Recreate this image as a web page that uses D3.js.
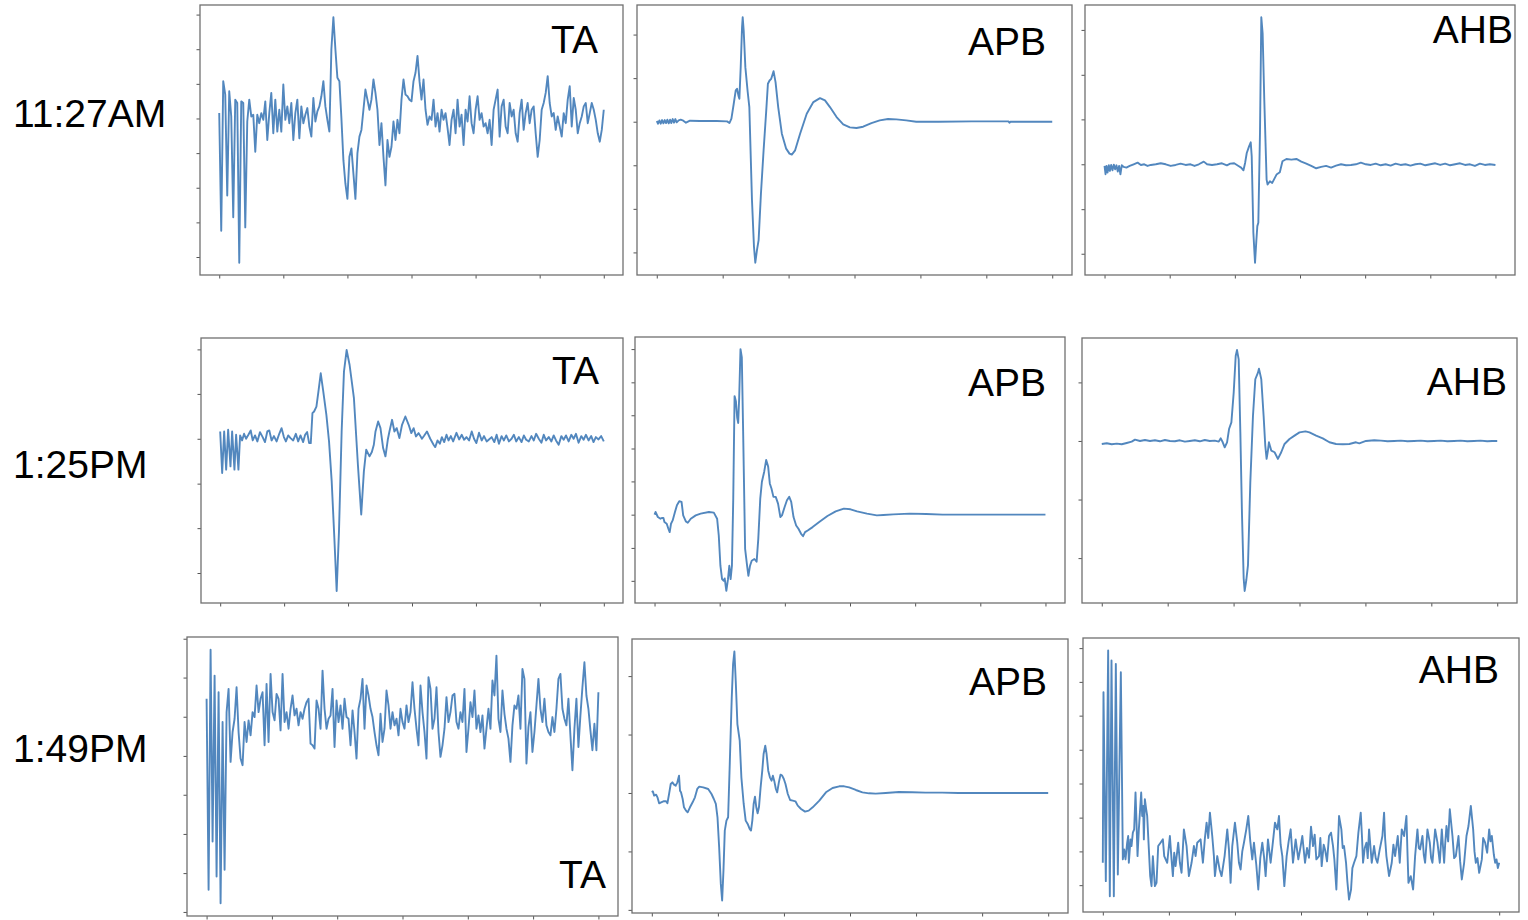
<!DOCTYPE html>
<html>
<head>
<meta charset="utf-8">
<script src="https://cdn.jsdelivr.net/npm/d3@7"></script>
<style>
  body { margin: 0; background: #fff; }
  svg { display: block; }
</style>
</head>
<body>
<svg id="chart" width="1528" height="920"></svg>
<script>
// ---------------- DATA (amplitudes in arbitrary units, time in samples) ----------------
const rowLabels = ["11:27AM", "1:25PM", "1:49PM"];
const muscleLabels = ["TA", "APB", "AHB"];

// TA 11:27AM — uniformly sampled, step 6
const ta1127Step = 6;
const ta1127 = [16,-334,111,71,-229,81,6,-294,56,46,
-429,51,46,-324,-9,56,6,11,-99,11,
-14,16,-4,51,-64,16,76,-44,56,-39,
26,-39,101,-4,36,-14,46,-64,16,56,
-59,36,-14,11,31,-24,-54,61,-9,21,
36,66,111,36,-4,-39,206,301,206,121,
111,1,-124,-194,-239,-114,-89,-164,-239,-104,
-54,-34,26,86,56,26,56,116,76,26,
-79,-14,-114,-199,-64,-114,-84,-9,-64,-4,
-44,56,116,71,66,56,51,111,136,186,
111,56,116,26,-19,6,-4,56,-24,16,
-39,26,-4,16,-29,-79,-4,26,-44,56,
-24,11,-79,26,-9,66,-14,-44,26,66,
-4,16,-24,-14,-44,-4,-79,26,56,86,
-54,36,56,-24,-44,46,6,26,-44,-69,
16,56,-34,16,46,-14,26,36,-44,-114,
-64,26,46,76,126,46,6,16,-34,6,
-24,-54,16,-14,56,96,-24,61,26,-44,
-14,6,36,46,-14,16,46,26,-4,-44,
-69,-34,26];
const ta1127Ticks = [-412,-309,-206,-103,0,103,206,309];

// APB 11:27AM — [time, amplitude]
const apb1127 = [[0,2],[4,-6],[8,4],[12,-6],[16,5],[20,-5],[24,5],[28,-4],[32,6],[36,-5],[40,6],[44,-4],[48,8],[52,-3],[56,8],[60,-2],[66,4],[72,6],[80,3],[88,-3],[100,3],[130,2],[180,2],[212,1],[219,-4],[225,9],[232,54],[238,94],[242,99],[246,79],[249,69],[253,164],[257,284],[259,314],[262,274],[267,164],[274,90],[279,44],[287,-236],[293,-376],[297,-424],[302,-386],[307,-356],[314,-216],[322,-86],[330,34],[335,114],[340,124],[345,129],[352,152],[358,119],[366,44],[377,-36],[390,-81],[400,-96],[407,-99],[417,-86],[432,-36],[452,24],[472,59],[492,71],[507,64],[522,44],[542,14],[562,-8],[582,-17],[602,-19],[622,-15],[647,-4],[672,4],[697,8],[722,7],[752,4],[782,0],[850,0],[950,1],[1060,1],[1063,-3],[1066,0],[1100,0],[1192,0]];
const apb1127Ticks = [-393,-262,-131,0,131,262];

// AHB 11:27AM
const ahb1127 = [[0,-5],[3,-30],[6,-5],[9,-25],[13,-3],[16,-20],[20,-2],[24,-18],[28,-1],[32,-15],[36,-3],[40,-22],[44,-5],[48,-30],[52,-3],[58,-8],[66,-10],[76,-5],[88,0],[100,5],[110,-2],[120,0],[130,-5],[140,-2],[155,0],[170,3],[185,0],[200,-5],[215,-2],[230,2],[245,-2],[260,0],[272,-5],[285,0],[300,8],[310,0],[325,-2],[340,0],[355,3],[370,-3],[380,2],[392,3],[405,-5],[413,-10],[420,-18],[425,4],[430,34],[437,54],[442,66],[445,24],[450,-206],[455,-296],[459,-230],[462,-186],[465,-176],[470,94],[474,442],[478,394],[483,194],[490,-46],[493,-61],[500,-51],[507,-56],[520,-31],[530,-24],[538,9],[550,16],[565,14],[580,16],[595,8],[610,2],[625,-5],[640,-12],[655,-8],[670,-5],[685,-10],[700,-4],[715,0],[730,-3],[745,-2],[760,0],[775,5],[790,0],[805,-2],[820,2],[835,-3],[850,0],[865,-4],[880,2],[895,-2],[910,0],[925,-4],[940,0],[955,2],[970,-3],[985,0],[1000,3],[1015,-2],[1030,2],[1045,-3],[1060,0],[1075,3],[1090,-2],[1105,0],[1120,-5],[1135,2],[1150,-2],[1165,0],[1182,-2]];
const ahb1127Ticks = [-269,-135,0,135,269,404];

// TA 1:25PM
const ta125 = [[0,22],[6,-103],[12,22],[18,-93],[24,27],[31,-83],[36,22],[43,-93],[48,12],[55,-93],[60,10],[66,-5],[72,15],[78,0],[85,12],[92,25],[98,-5],[105,10],[112,-8],[120,20],[128,5],[135,-10],[142,22],[148,25],[155,-5],[162,8],[170,-8],[178,15],[185,32],[192,5],[198,-8],[205,10],[212,2],[220,-5],[228,15],[235,-8],[242,10],[250,-10],[256,12],[262,20],[268,-13],[273,-13],[278,77],[283,82],[290,97],[296,142],[303,197],[310,147],[320,72],[328,-8],[336,-128],[344,-298],[351,-458],[358,-278],[366,22],[373,202],[381,267],[390,222],[403,122],[415,-78],[425,-228],[433,-98],[440,-33],[450,-53],[457,-40],[463,-18],[468,22],[476,52],[483,32],[491,-28],[498,-53],[505,-3],[510,22],[518,57],[525,22],[532,32],[540,2],[548,42],[558,67],[568,42],[576,17],[583,32],[590,7],[598,17],[608,0],[615,10],[623,22],[633,0],[643,-18],[648,-25],[655,-5],[662,-15],[668,5],[675,-10],[682,12],[688,-5],[695,8],[702,-8],[712,18],[720,-2],[728,12],[735,-3],[742,5],[750,-5],[758,22],[765,0],[772,-13],[780,18],[788,-5],[795,8],[803,-8],[810,-2],[818,5],[826,-10],[833,12],[840,-15],[848,8],[855,-5],[862,10],[870,-8],[878,0],[885,12],[892,-8],[900,5],[908,-10],[915,10],[922,-3],[930,-8],[938,8],[945,-5],[952,15],[960,0],[968,-12],[975,12],[982,-5],[990,5],[998,-8],[1005,10],[1012,-5],[1020,-18],[1028,8],[1035,-3],[1042,10],[1050,-8],[1058,12],[1065,0],[1072,15],[1080,-12],[1088,8],[1095,-3],[1102,12],[1110,-5],[1118,8],[1125,-10],[1132,5],[1140,-2],[1148,8],[1156,-8]];
const ta125Ticks = [-404,-269,-135,0,135,269];

// APB 1:25PM
const apb125 = [[0,0],[3,8],[10,-7],[18,-12],[22,-10],[27,-10],[30,-22],[37,-27],[42,-42],[46,-52],[50,-27],[55,-17],[62,8],[68,28],[75,40],[82,38],[87,-2],[95,-20],[101,-24],[110,-12],[125,-2],[140,3],[165,8],[180,6],[190,-12],[195,-62],[200,-152],[205,-192],[210,-197],[213,-190],[218,-227],[223,-192],[227,-152],[231,-192],[235,-152],[239,48],[243,353],[247,338],[251,288],[254,273],[257,348],[261,493],[265,468],[269,248],[275,-102],[281,-152],[285,-182],[290,-152],[295,-137],[303,-132],[310,-140],[315,-72],[321,48],[326,98],[333,128],[339,163],[345,143],[350,93],[355,78],[361,53],[368,53],[375,33],[382,-7],[387,-2],[395,23],[402,43],[409,53],[415,38],[422,-7],[430,-32],[437,-42],[445,-57],[451,-64],[457,-52],[465,-47],[480,-37],[500,-22],[525,-4],[550,10],[575,18],[595,16],[615,10],[645,3],[675,-2],[695,-1],[725,1],[775,3],[825,2],[875,0],[1000,0],[1100,0],[1187,0]];
const apb125Ticks = [-197,-99,0,99,197,296,394,493];

// AHB 1:25PM
const ahb125 = [[0,-9],[15,-7],[30,-10],[45,-8],[60,-10],[75,-6],[90,-2],[100,4],[115,0],[130,3],[145,0],[160,2],[175,-1],[190,3],[205,0],[220,-1],[235,2],[250,-2],[265,0],[280,2],[295,-1],[310,3],[325,0],[340,1],[352,-2],[358,8],[364,-4],[370,-19],[377,-4],[383,36],[390,56],[397,146],[403,256],[407,274],[412,246],[417,26],[422,-224],[427,-414],[430,-452],[435,-419],[440,-374],[447,-124],[455,76],[462,186],[470,206],[473,218],[480,186],[487,76],[492,-14],[496,-54],[500,-29],[503,-4],[510,-29],[520,-34],[530,-54],[540,-34],[550,-9],[565,6],[580,16],[595,26],[613,29],[625,26],[645,16],[665,8],[685,-4],[705,-9],[725,-10],[745,-9],[765,-4],[775,-7],[795,0],[820,2],[840,1],[860,-1],[880,0],[900,1],[920,-1],[940,0],[960,1],[980,-1],[1000,0],[1020,1],[1040,-1],[1060,0],[1080,1],[1100,-1],[1120,0],[1140,1],[1160,-1],[1175,0],[1190,0]];
const ahb125Ticks = [-353,-176.5,0,176.5];

// TA 1:49PM — uniformly sampled, step 6
const ta149Step = 6;
const ta149 = [54,-521,202,-376,124,-481,74,-562,-16,-461,
14,84,-136,-46,-6,89,-46,-126,-146,-16,
-76,-11,-56,14,-1,94,14,54,74,-86,
99,-76,129,14,-11,69,54,-41,129,-16,
14,-36,24,64,4,24,-26,14,-6,24,
44,54,-81,-86,-96,49,24,-36,139,24,
-36,-6,4,84,-91,49,-16,34,-36,54,
-1,-6,-86,19,-46,-126,24,54,114,-36,
94,64,24,-1,-46,-86,-116,9,-76,-36,
79,34,-36,14,-26,-6,-56,24,-16,-36,
34,-16,14,104,24,-36,-86,94,14,-46,
-126,119,84,-36,-6,89,-46,-121,-86,-36,
59,-16,14,64,69,-16,-36,14,-16,84,
-106,-36,44,-1,79,-36,4,-46,4,-96,
-36,24,-36,109,64,184,-6,-46,79,9,
-36,-66,-136,-26,34,24,64,-36,144,114,
-141,-31,14,-106,-46,34,114,24,-16,54,
-26,-46,-56,-1,-46,24,114,129,24,-6,
-26,54,-56,-161,-36,54,-91,4,89,164,
64,24,-41,-101,-21,-101,74];
const ta149Ticks = [-588,-471,-353,-235,-118,0,118,235];

// APB 1:49PM
const apb149 = [[0,2],[3,5],[7,-8],[13,-5],[17,-13],[22,-31],[28,-28],[35,-25],[43,-25],[47,-31],[52,-3],[57,27],[62,32],[67,25],[72,22],[77,32],[82,52],[85,7],[88,2],[93,-18],[97,-43],[103,-53],[108,-58],[115,-43],[123,-28],[130,-13],[137,12],[143,19],[155,17],[170,12],[180,-3],[187,-18],[193,-33],[198,-73],[203,-163],[208,-273],[212,-323],[216,-233],[220,-113],[225,-83],[230,-73],[235,87],[241,287],[245,387],[249,425],[253,337],[258,207],[265,157],[270,47],[277,-33],[283,-83],[289,-93],[295,-108],[299,-113],[303,-83],[307,-33],[311,-11],[315,-43],[319,-61],[323,-43],[328,17],[333,67],[337,117],[342,142],[346,117],[351,67],[356,47],[361,37],[365,52],[369,37],[374,12],[378,2],[383,32],[388,55],[393,52],[398,42],[403,27],[410,-3],[417,-21],[425,-23],[433,-25],[440,-38],[450,-48],[462,-56],[473,-53],[485,-43],[505,-23],[525,2],[545,15],[565,20],[580,20],[595,17],[615,9],[635,2],[655,-1],[675,-2],[705,0],[745,3],[785,2],[825,1],[875,1],[925,0],[1000,0],[1100,0],[1195,0]];
const apb149Ticks = [-351,-175.5,0,175.5,351];

// AHB 1:49PM
const ahb149 = [[0,-34],[2,476],[9,-89],[16,601],[21,-134],[26,571],[33,-134],[39,561],[45,-69],[54,536],[60,-24],[64,6],[68,-24],[73,26],[76,46],[78,-34],[83,36],[86,16],[90,56],[94,66],[98,176],[101,86],[104,-14],[108,66],[115,176],[118,106],[121,136],[123,36],[126,156],[130,126],[133,106],[138,6],[142,-74],[146,-104],[150,-14],[156,-104],[161,-94],[166,16],[173,26],[180,36],[184,-14],[193,-34],[201,46],[206,-24],[210,-74],[214,-4],[218,-44],[226,26],[231,-34],[236,-64],[243,66],[251,16],[258,-74],[266,-34],[273,16],[278,-14],[283,26],[293,36],[300,-34],[306,40],[311,86],[316,40],[321,116],[328,46],[333,-14],[336,-74],[343,-14],[350,-54],[356,-74],[365,-14],[373,66],[378,6],[383,-94],[388,16],[396,86],[403,26],[408,-34],[413,-54],[418,0],[423,26],[430,66],[436,106],[442,30],[448,-24],[453,26],[460,-40],[466,-114],[472,-20],[478,26],[483,-14],[488,-74],[495,36],[503,-34],[510,30],[516,86],[523,66],[528,106],[533,20],[538,-14],[544,-104],[551,-14],[557,30],[563,66],[570,-34],[578,36],[586,-24],[593,16],[598,46],[606,-34],[612,10],[618,-19],[624,74],[630,16],[635,50],[640,-24],[648,-14],[652,40],[656,-44],[662,20],[666,6],[672,-30],[678,46],[684,56],[690,16],[694,-24],[700,-114],[704,0],[708,106],[715,66],[719,10],[723,16],[729,-34],[733,-90],[738,-144],[744,-114],[748,-50],[753,-34],[760,-14],[766,56],[773,116],[777,40],[780,-34],[785,10],[790,26],[794,-20],[798,66],[806,-34],[813,16],[818,-20],[823,-34],[830,6],[838,46],[843,116],[846,40],[850,-14],[858,-74],[866,-34],[871,20],[876,-14],[884,46],[890,-34],[896,66],[903,46],[910,106],[913,0],[916,-94],[923,-74],[930,-114],[936,-14],[943,66],[947,10],[951,6],[958,46],[962,-10],[966,-34],[973,66],[980,26],[984,-20],[988,-34],[996,66],[1003,26],[1010,-34],[1016,66],[1023,-34],[1026,20],[1030,76],[1035,30],[1040,126],[1048,46],[1053,-20],[1058,-14],[1066,46],[1071,-30],[1076,-84],[1083,-34],[1090,46],[1096,76],[1103,136],[1110,66],[1114,0],[1118,-34],[1123,-20],[1128,-64],[1136,-24],[1140,40],[1146,26],[1152,-4],[1158,66],[1162,30],[1166,46],[1172,-10],[1176,-34],[1180,-24],[1184,-50],[1188,-34]];
const ahb149Ticks = [-101,0,101,203,304,406,507,608];

// ---------------- LAYOUT ----------------
const uniform = (vals, step) => vals.map((v, i) => [i * step, v]);

const panels = [
  { data: uniform(ta1127, ta1127Step), ticks: ta1127Ticks, label: muscleLabels[0], frame: [200, 5, 423, 270], lab: [598, 53] },
  { data: apb1127, ticks: apb1127Ticks, label: muscleLabels[1], frame: [637, 5, 435, 270], lab: [1046, 55] },
  { data: ahb1127, ticks: ahb1127Ticks, label: muscleLabels[2], frame: [1085, 5, 430, 270], lab: [1513, 43] },
  { data: ta125, ticks: ta125Ticks, label: muscleLabels[0], frame: [201, 338, 422, 265], lab: [599, 384] },
  { data: apb125, ticks: apb125Ticks, label: muscleLabels[1], frame: [635, 337, 430, 266], lab: [1046, 396] },
  { data: ahb125, ticks: ahb125Ticks, label: muscleLabels[2], frame: [1082, 338, 435, 265], lab: [1507, 395] },
  { data: uniform(ta149, ta149Step), ticks: ta149Ticks, label: muscleLabels[0], frame: [187, 637, 431, 279], lab: [606, 888] },
  { data: apb149, ticks: apb149Ticks, label: muscleLabels[1], frame: [632, 639, 436, 274], lab: [1047, 695] },
  { data: ahb149, ticks: ahb149Ticks, label: muscleLabels[2], frame: [1083, 638, 436, 274], lab: [1499, 683] }
];
const rowLabelPos = [[13, 127], [13, 478], [13, 762]];

const FONT = "'Liberation Sans', Arial, Helvetica, sans-serif";
const LINE_COLOR = "#3f7ab7";
const FRAME_COLOR = "#707070";

const svg = d3.select("#chart");

panels.forEach(p => {
  const [fx, fy, fw, fh] = p.frame;
  const pts = p.data;
  const tExt = d3.extent(pts, d => d[0]);
  const vExt = d3.extent(pts, d => d[1]);
  const tPad = (tExt[1] - tExt[0]) * 0.05;
  const vPad = (vExt[1] - vExt[0]) * 0.05;
  const x = d3.scaleLinear().domain([tExt[0] - tPad, tExt[1] + tPad]).range([fx, fx + fw]);
  const y = d3.scaleLinear().domain([vExt[0] - vPad, vExt[1] + vPad]).range([fy + fh, fy]);

  const g = svg.append("g");

  const xTicks = d3.range(7).map(k => tExt[0] + (tExt[1] - tExt[0]) * k / 6);
  const xAxis = g.append("g")
    .attr("transform", `translate(0,${fy + fh})`)
    .call(d3.axisBottom(x).tickValues(xTicks).tickSize(3.5).tickFormat(""));
  const yAxis = g.append("g")
    .attr("transform", `translate(${fx},0)`)
    .call(d3.axisLeft(y).tickValues(p.ticks).tickSize(3.5).tickFormat(""));
  [xAxis, yAxis].forEach(a => {
    a.select(".domain").remove();
    a.selectAll(".tick line").attr("stroke", "#555").attr("stroke-width", 1);
  });

  g.append("path")
    .datum(pts)
    .attr("fill", "none")
    .attr("stroke", LINE_COLOR)
    .attr("stroke-width", 1.9)
    .attr("stroke-opacity", 0.9)
    .attr("stroke-linejoin", "round")
    .attr("d", d3.line().x(d => x(d[0])).y(d => y(d[1])));

  g.append("rect")
    .attr("x", fx).attr("y", fy).attr("width", fw).attr("height", fh)
    .attr("fill", "none").attr("stroke", FRAME_COLOR).attr("stroke-width", 1.3);

  g.append("text")
    .attr("x", p.lab[0]).attr("y", p.lab[1])
    .attr("text-anchor", "end")
    .attr("font-family", FONT).attr("font-size", 39).attr("fill", "#000")
    .text(p.label);
});

svg.selectAll("text.row")
  .data(rowLabels)
  .join("text")
  .attr("class", "row")
  .attr("x", (d, i) => rowLabelPos[i][0])
  .attr("y", (d, i) => rowLabelPos[i][1])
  .attr("font-family", FONT).attr("font-size", 39).attr("fill", "#000")
  .text(d => d);
</script>
</body>
</html>
